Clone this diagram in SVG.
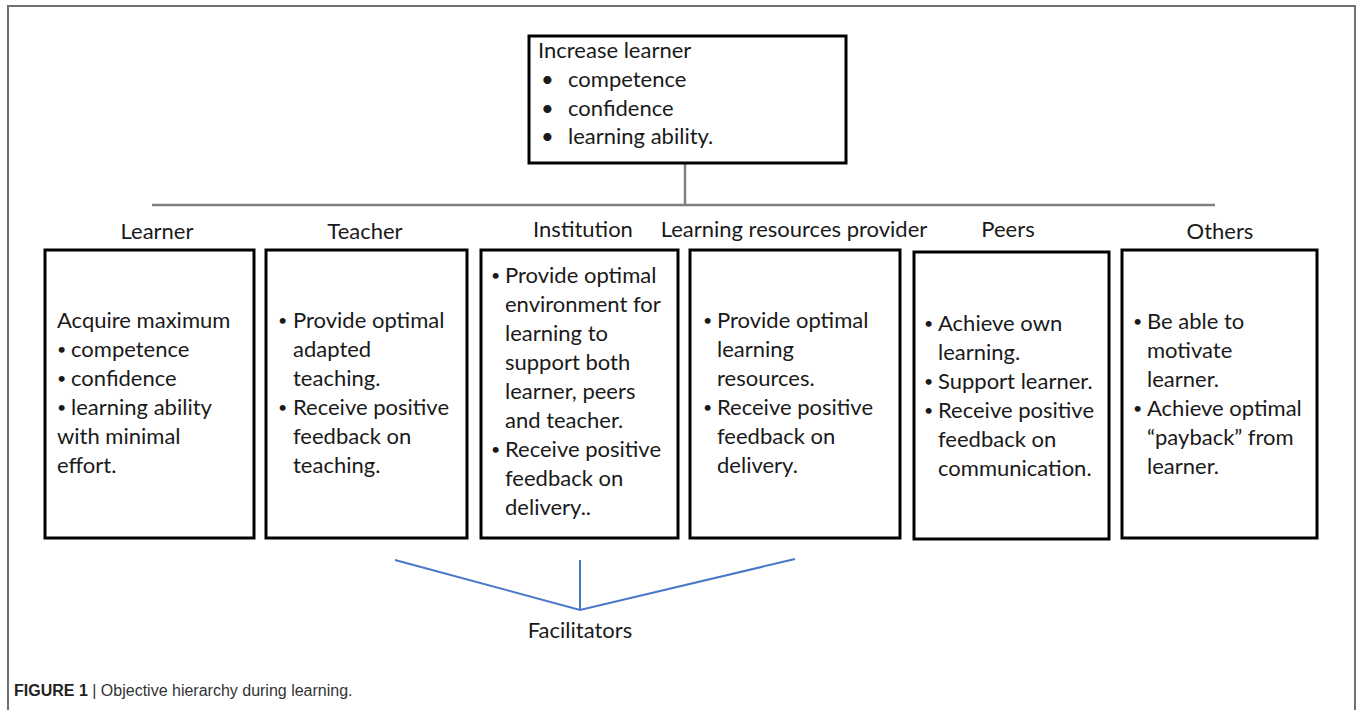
<svg xmlns="http://www.w3.org/2000/svg" width="1357" height="710" viewBox="0 0 1357 710">
<style>
.frame{fill:none;stroke:#707070;stroke-width:2}
.box{fill:#fff;stroke:#000;stroke-width:3}
.t{font-family:Lato,"Liberation Sans",sans-serif;font-size:22px;fill:#1a1a1a}
.b{font-family:Lato,"Liberation Sans",sans-serif;font-size:16px;fill:#1a1a1a}
.lab{font-family:Lato,"Liberation Sans",sans-serif;font-size:22px;fill:#1a1a1a;text-anchor:middle}
.gline{stroke:#7f7f7f;stroke-width:2.5;fill:none}
.bline{stroke:#4a78c8;stroke-width:2;fill:none}
.cap{font-family:"Liberation Sans",Arial,sans-serif;font-size:16px;fill:#333}
</style>
<rect x="0" y="0" width="1357" height="710" fill="#fff"/>
<path class="frame" d="M8,720 V6 H1355 V720"/>

<g id="connectors">
<line class="gline" x1="685" y1="163" x2="685" y2="205"/>
<line class="gline" x1="152" y1="205" x2="1215" y2="205"/>
<polyline class="bline" points="395,560 580,610 795,559"/>
<line class="bline" x1="580" y1="560" x2="580" y2="610"/>
</g>

<g id="goal">
<rect class="box" x="529" y="36" width="317" height="127"/>
<text class="t" x="538" y="58">Increase learner</text>
<text class="t" x="541" y="87">•</text><text class="t" x="568" y="87">competence</text>
<text class="t" x="541" y="116">•</text><text class="t" x="568" y="116">confidence</text>
<text class="t" x="541" y="144">•</text><text class="t" x="568" y="144">learning ability.</text>
</g>

<g id="learner">
<text class="lab" x="157" y="239">Learner</text>
<rect class="box" x="45" y="250" width="209" height="288"/>
<text class="t" x="57" y="328">Acquire maximum</text>
<text class="b" x="57" y="355">•</text><text class="t" x="71" y="357">competence</text>
<text class="b" x="57" y="384">•</text><text class="t" x="71" y="386">confidence</text>
<text class="b" x="57" y="413">•</text><text class="t" x="71" y="415">learning ability</text>
<text class="t" x="57" y="444">with minimal</text>
<text class="t" x="57" y="473">effort.</text>
</g>

<g id="teacher">
<text class="lab" x="365" y="239">Teacher</text>
<rect class="box" x="266" y="250" width="201" height="288"/>
<text class="b" x="278" y="326">•</text><text class="t" x="293" y="328">Provide optimal</text>
<text class="t" x="293" y="357">adapted</text>
<text class="t" x="293" y="386">teaching.</text>
<text class="b" x="278" y="413">•</text><text class="t" x="293" y="415">Receive positive</text>
<text class="t" x="293" y="444">feedback on</text>
<text class="t" x="293" y="473">teaching.</text>
</g>

<g id="institution">
<text class="lab" x="583" y="237">Institution</text>
<rect class="box" x="481" y="250" width="197" height="288"/>
<text class="b" x="491" y="281">•</text><text class="t" x="505" y="283">Provide optimal</text>
<text class="t" x="505" y="312">environment for</text>
<text class="t" x="505" y="341">learning to</text>
<text class="t" x="505" y="370">support both</text>
<text class="t" x="505" y="399">learner, peers</text>
<text class="t" x="505" y="428">and teacher.</text>
<text class="b" x="491" y="455">•</text><text class="t" x="505" y="457">Receive positive</text>
<text class="t" x="505" y="486">feedback on</text>
<text class="t" x="505" y="515">delivery..</text>
</g>

<g id="resources">
<text class="lab" x="794" y="237">Learning resources provider</text>
<rect class="box" x="690" y="250" width="210" height="288"/>
<text class="b" x="703" y="326">•</text><text class="t" x="717" y="328">Provide optimal</text>
<text class="t" x="717" y="357">learning</text>
<text class="t" x="717" y="386">resources.</text>
<text class="b" x="703" y="413">•</text><text class="t" x="717" y="415">Receive positive</text>
<text class="t" x="717" y="444">feedback on</text>
<text class="t" x="717" y="473">delivery.</text>
</g>

<g id="peers">
<text class="lab" x="1008" y="237">Peers</text>
<rect class="box" x="914" y="252" width="195" height="287"/>
<text class="b" x="924" y="329">•</text><text class="t" x="938" y="331">Achieve own</text>
<text class="t" x="938" y="360">learning.</text>
<text class="b" x="924" y="387">•</text><text class="t" x="938" y="389">Support learner.</text>
<text class="b" x="924" y="416">•</text><text class="t" x="938" y="418">Receive positive</text>
<text class="t" x="938" y="447">feedback on</text>
<text class="t" x="938" y="476">communication.</text>
</g>

<g id="others">
<text class="lab" x="1220" y="239">Others</text>
<rect class="box" x="1122" y="250" width="195" height="288"/>
<text class="b" x="1133" y="327">•</text><text class="t" x="1147" y="329">Be able to</text>
<text class="t" x="1147" y="358">motivate</text>
<text class="t" x="1147" y="387">learner.</text>
<text class="b" x="1133" y="414">•</text><text class="t" x="1147" y="416">Achieve optimal</text>
<text class="t" x="1147" y="445">“payback” from</text>
<text class="t" x="1147" y="474">learner.</text>
</g>

<g id="facilitators">
<text class="lab" x="580" y="638">Facilitators</text>
</g>

<text class="cap" x="14" y="696"><tspan font-weight="bold" fill="#222">FIGURE 1</tspan> | Objective hierarchy during learning.</text>
</svg>
